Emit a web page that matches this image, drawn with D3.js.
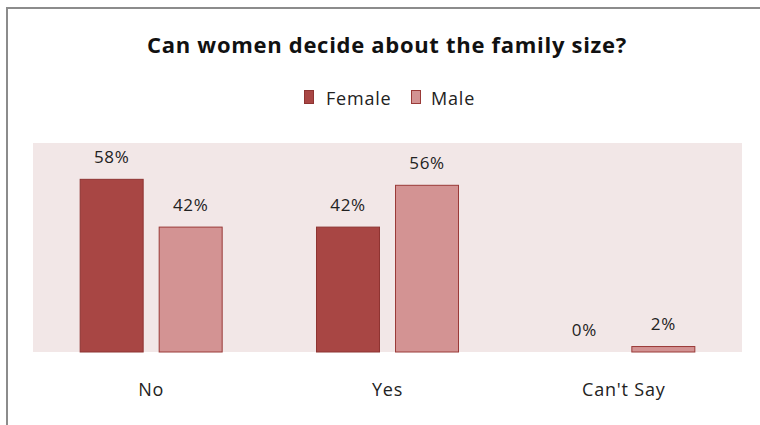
<!DOCTYPE html>
<html>
<head>
<meta charset="utf-8">
<script src="https://cdn.jsdelivr.net/npm/d3@7"></script>
<style>
  body { margin: 0; background: #fff; }
  svg { display: block; font-family: "Open Sans", sans-serif; }
</style>
</head>
<body>
<svg id="chart" width="760" height="425"></svg>
<script>
// data
var categories = ["No", "Yes", "Can't Say"];
var seriesNames = ["Female", "Male"];
var female = [58, 42, 0];
var male = [42, 56, 2];

var colors = { Female: "#a84644", Male: "#d39393" };
var strokes = { Female: "#8e3432", Male: "#9a3a38" };

var svg = d3.select("#chart");

// outer frame (only left + top show)
svg.append("path")
  .attr("d", "M7,425 V8 H760")
  .attr("fill", "none")
  .attr("stroke", "#8c8c8c")
  .attr("stroke-width", 2);

var plot = { left: 33, right: 742, top: 143, bottom: 352 };

svg.append("rect")
  .attr("x", plot.left).attr("y", plot.top)
  .attr("width", plot.right - plot.left)
  .attr("height", plot.bottom - plot.top)
  .attr("fill", "#f2e7e7");

var x = d3.scaleBand().domain(categories).range([plot.left, plot.right]);
var xs = d3.scaleBand().domain(seriesNames)
  .range([x.bandwidth() / 2 - 71.5, x.bandwidth() / 2 + 71.5]).paddingInner(0.19);
var y = d3.scaleLinear().domain([0, 70]).range([plot.bottom, plot.top]);

var rows = categories.map(function(c, i) {
  return { cat: c, vals: [ { s: "Female", v: female[i] }, { s: "Male", v: male[i] } ] };
});

var g = svg.selectAll("g.cat").data(rows).enter().append("g")
  .attr("transform", function(d) { return "translate(" + x(d.cat) + ",0)"; });

g.selectAll("rect").data(function(d) { return d.vals.filter(function(e) { return e.v > 0; }); })
  .enter().append("rect")
  .attr("x", function(d) { return xs(d.s) + 0.5; })
  .attr("y", function(d) { return y(d.v) + 0.5; })
  .attr("width", xs.bandwidth() - 1)
  .attr("height", function(d) { return y(0) - y(d.v) - 0.5; })
  .attr("fill", function(d) { return colors[d.s]; })
  .attr("stroke", function(d) { return strokes[d.s]; })
  .attr("stroke-width", 1);

g.selectAll("text.val").data(function(d) { return d.vals; })
  .enter().append("text")
  .attr("class", "val")
  .attr("x", function(d) { return xs(d.s) + xs.bandwidth() / 2; })
  .attr("y", function(d) { return y(d.v) - 16; })
  .attr("text-anchor", "middle")
  .attr("font-size", 17)
  .attr("letter-spacing", 0.6)
  .attr("fill", "#222")
  .text(function(d) { return d.v + "%"; });

// category axis labels
svg.append("g")
  .attr("transform", "translate(0," + plot.bottom + ")")
  .call(d3.axisBottom(x).tickSize(0).tickPadding(31))
  .call(function(a) { a.select(".domain").remove(); })
  .selectAll("text")
  .attr("font-size", 18)
  .attr("letter-spacing", 0.8)
  .attr("font-family", "Open Sans, sans-serif")
  .attr("fill", "#222");

// title
svg.append("text")
  .attr("x", 387).attr("y", 53)
  .attr("text-anchor", "middle")
  .attr("font-size", 22)
  .attr("font-weight", "bold")
  .attr("letter-spacing", 0.7)
  .attr("fill", "#111")
  .text("Can women decide about the family size?");

// legend
var legend = svg.append("g");
var legX = [304, 411];
var legTextX = [326, 431];
seriesNames.forEach(function(s, i) {
  legend.append("rect")
    .attr("x", legX[i] + 0.5).attr("y", 90.5)
    .attr("width", 9).attr("height", 13)
    .attr("fill", colors[s]).attr("stroke", strokes[s]);
  legend.append("text")
    .attr("x", legTextX[i]).attr("y", 105)
    .attr("font-size", 18)
    .attr("letter-spacing", 0.8)
    .attr("fill", "#222")
    .text(s);
});
</script>
</body>
</html>
